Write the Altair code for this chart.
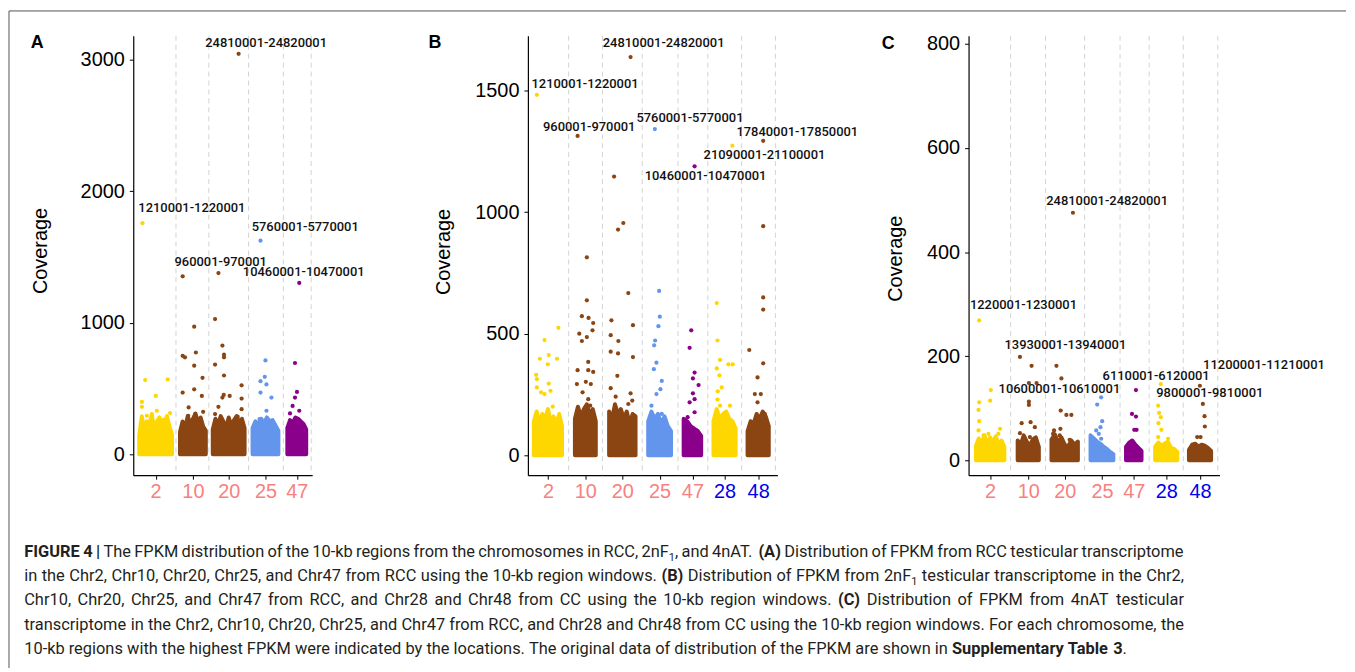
import altair as alt
import pandas as pd

FONT = "Liberation Sans"
ANN_FONT = "Roboto"
CAP_FONT = "Roboto"

COLORS = {"2": "#FFD700", "10": "#8B4513", "20": "#8B4513", "25": "#6495ED",
          "47": "#8B008B", "28": "#DA70D6", "48": "#DA70D6"}
PINK = "#F88080"
BLUE = "#0000EE"

# ---------------- Panel A (RCC) ----------------
A_chroms = ["2", "10", "20", "25", "47"]
A_start = [6, 47, 80, 120, 155]
A_end = [39, 73, 112, 146, 174]
A_bounds = [43, 76, 116, 151, 179]
A_blob = {
    "2": [140, 290, 190, 250, 220, 300, 180, 250, 280, 200, 240, 290, 210, 150],
    "10": [170, 250, 200, 290, 230, 270, 310, 240, 280, 210, 180],
    "20": [190, 270, 230, 290, 250, 200, 280, 220, 260, 290, 240, 270, 200],
    "25": [200, 250, 230, 270, 240, 280, 250, 260, 220, 180],
    "47": [200, 260, 240, 280, 270, 250, 230, 190],
}
A_out_x = {
    "2": [9.3, 12, 34.7, 22.7, 8.7, 8.7, 23.7, 18.7, 37, 30.3, 13.7],
    "10": [49.7, 61.3, 63, 49.7, 52, 61.3, 69.7, 49.7, 61.3, 69, 55.7, 70.3, 62.3, 55.3],
    "20": [106, 85.7, 82.3, 89.7, 91.3, 91.3, 82.3, 91.3, 109, 91, 97, 89.7, 109, 85.7, 109, 82.3, 105],
    "25": [128, 133, 132.3, 128, 134, 128, 139, 134, 127],
    "47": [167, 162.7, 164.7, 162.7, 160.3, 167, 157.7],
}
A_out_y = {
    "2": [1757, 564, 569, 444, 398, 361, 331, 306, 313, 261, 293],
    "10": [1353, 970, 774, 749, 737, 674, 581, 469, 494, 444, 356, 323, 306, 293],
    "20": [3045, 1378, 1028, 827, 757, 737, 682, 599, 524, 451, 444, 431, 424, 361, 343, 306, 286],
    "25": [1624, 714, 589, 556, 531, 469, 431, 331, 268],
    "47": [1303, 694, 474, 431, 368, 331, 311],
}
A_lab_text = ["24810001-24820001", "1210001-1220001", "5760001-5770001", "960001-970001", "10460001-10470001"]
A_lab_x = [133.7, 59, 173, 88, 171.5]
A_lab_y = [3129, 1869, 1726, 1461, 1383]

# ---------------- Panel B (2nF1) ----------------
B_chroms = ["2", "10", "20", "25", "47", "28", "48"]
B_start = [6, 47.3, 81.7, 121, 156.7, 186.7, 221]
B_end = [34.3, 68.3, 108.3, 144, 174.3, 209, 242.3]
B_bounds = [41, 75, 115, 151, 181, 215, 249]
B_blob = {
    "2": [140, 180, 130, 170, 150, 190, 140, 160, 130, 170, 120],
    "10": [150, 200, 160, 190, 210, 170, 190, 140],
    "20": [180, 150, 210, 170, 190, 150, 180, 130, 170, 160],
    "25": [140, 180, 150, 170, 130, 160, 120, 100],
    "47": [150, 140, 120, 110, 100, 80],
    "28": [140, 190, 150, 170, 180, 150, 140, 110],
    "48": [100, 140, 130, 170, 150, 180, 160, 120],
}
B_out_x = {
    "2": [9, 30.7, 16.7, 12, 21, 29.3, 20, 8.3, 9, 21, 13.3, 22.7, 16.7, 25, 9],
    "10": [50, 59.3, 59.3, 54.3, 61, 65.7, 51.7, 65, 59.3, 54.3, 60.7, 50, 60.7, 65.7, 49.3, 58.3, 63.3, 55, 60.7, 62.7],
    "20": [103.3, 86.7, 96, 90.7, 101, 84, 105.7, 83.3, 91, 83.3, 90.7, 105.7, 90, 83.3, 88.3, 103.3, 105, 101],
    "25": [127.7, 132, 132.7, 131.3, 128, 127, 129.3, 126.7, 134.7, 133.3, 129.3, 124.3, 134.7],
    "47": [167.7, 164.3, 162.7, 167.7, 166, 171.7, 166, 162.7, 167.7, 167.7, 160.7],
    "28": [205.7, 190, 190.7, 193.3, 201.7, 206, 190, 192.7, 195, 191, 190.7, 203.3, 193.3],
    "48": [236.7, 236.7, 236.7, 236.7, 222.7, 236.7, 231, 228.3, 234.3, 231, 238.3, 223.3],
}
B_out_y = {
    "2": [1482, 524, 474, 397, 412, 397, 374, 331, 313, 295, 259, 265, 252, 200, 279],
    "10": [1313, 814, 637, 572, 565, 544, 500, 514, 486, 470, 384, 350, 350, 343, 293, 302, 293, 259, 231, 204],
    "20": [1637, 1146, 955, 928, 667, 555, 535, 494, 470, 426, 419, 404, 327, 276, 241, 255, 225, 211],
    "25": [1341, 676, 570, 531, 472, 452, 381, 354, 306, 272, 252, 204, 170],
    "47": [1188, 514, 442, 340, 316, 289, 255, 218, 231, 177, 157],
    "28": [1273, 626, 472, 392, 374, 374, 357, 329, 279, 263, 229, 204, 204],
    "48": [1293, 942, 649, 599, 433, 378, 320, 252, 252, 218, 170, 122],
}
B_lab_text = ["24810001-24820001", "1210001-1220001", "960001-970001", "5760001-5770001",
              "17840001-17850001", "21090001-21100001", "10460001-10470001"]
B_lab_x = [136.5, 57.5, 61.7, 163, 271, 238, 178.7]
B_lab_y = [1693, 1525, 1349, 1385, 1331, 1233, 1148]

# ---------------- Panel C (4nAT) ----------------
C_chroms = ["2", "10", "20", "25", "47", "28", "48"]
C_start = [7.4, 49.4, 83.4, 122.7, 158.4, 187.7, 221.7]
C_end = [36, 70.7, 110, 145.7, 174, 210, 244]
C_bounds = [42.3, 77.4, 116.7, 152.4, 181.7, 216, 250.7]
C_blob = {
    "2": [28, 42, 32, 48, 30, 44, 34, 46, 30, 38, 26],
    "10": [38, 30, 48, 36, 28, 40, 44, 26],
    "20": [40, 50, 34, 44, 30, 26, 38, 30, 36],
    "25": [48, 42, 36, 32, 26, 22, 16, 12],
    "47": [26, 34, 38, 30, 24, 18],
    "28": [26, 34, 28, 32, 36, 24, 22, 16],
    "48": [20, 30, 32, 26, 30, 28, 24, 18],
}
C_out_x = {
    "2": [10.7, 22.4, 21.7, 10.7, 10, 10.7, 10, 31.7, 20, 30, 15],
    "10": [51.7, 63.4, 60.7, 68.4, 60.7, 60.7, 53.4, 62.4, 66.7, 51.7, 61.7],
    "20": [105, 88.4, 93.4, 92.7, 98.4, 103.4, 86, 92.4, 91.7, 101.7, 85],
    "25": [133.4, 129.4, 134.4, 132.7, 128.4, 131, 133.4],
    "47": [168.4, 164.4, 168.4, 166.7, 169, 165],
    "28": [193.4, 190.7, 191.7, 193.4, 191, 194, 190.7, 200.7],
    "48": [232.7, 235.7, 237.4, 237.7, 230, 233.4],
}
C_out_y = {
    "2": [268.6, 135, 114.6, 111.4, 96.8, 75.1, 57.3, 60.5, 50.9, 50.9, 47.7],
    "10": [198.6, 181.4, 148.3, 148.3, 112.7, 106.3, 71.3, 73.2, 63.7, 52.2, 44.6],
    "20": [475.5, 181.4, 157.2, 95.5, 87.2, 87.2, 57.3, 60.5, 47.7, 39.5, 50.9],
    "25": [121, 107, 75.1, 63.7, 57.3, 50.9, 41.4],
    "47": [135, 89.1, 84, 58.6, 58.6, 35],
    "28": [146.4, 105, 91, 82.8, 71.3, 58.6, 44.6, 41.4],
    "48": [143.2, 108.2, 84.7, 64.9, 44.6, 44.6],
}
C_lab_text = ["24810001-24820001", "1220001-1230001", "13930001-13940001", "10600001-10610001",
              "6110001-6120001", "11200001-11210001", "9800001-9810001"]
C_lab_x = [139.4, 55.2, 97.4, 91.4, 188.7, 297.2, 242.7]
C_lab_y = [498.4, 299.2, 220.9, 136.9, 161, 183.3, 128.5]

# ---------------- Caption (*bold*, ~subscript~) ----------------
CAPTION = [
    "*FIGURE 4 |* The FPKM distribution of the 10-kb regions from the chromosomes in RCC, 2nF~1~, and 4nAT. *(A)* Distribution of FPKM from RCC testicular transcriptome",
    "in the Chr2, Chr10, Chr20, Chr25, and Chr47 from RCC using the 10-kb region windows. *(B)* Distribution of FPKM from 2nF~1~ testicular transcriptome in the Chr2,",
    "Chr10, Chr20, Chr25, and Chr47 from RCC, and Chr28 and Chr48 from CC using the 10-kb region windows. *(C)* Distribution of FPKM from 4nAT testicular",
    "transcriptome in the Chr2, Chr10, Chr20, Chr25, and Chr47 from RCC, and Chr28 and Chr48 from CC using the 10-kb region windows. For each chromosome, the",
    "10-kb regions with the highest FPKM were indicated by the locations. The original data of distribution of the FPKM are shown in *Supplementary Table 3*.",
]
CAP_BASELINES = [557.3, 581.7, 606, 630.7, 655]
CAP_LEFT, CAP_RIGHT = 23.3, 1190
CAP_SIZE, CAP_SUB = 16.5, 11

# approximate Roboto advance widths (em) for justified layout of the caption
EM = {' ': .248, 'a': .544, 'b': .561, 'c': .523, 'd': .563, 'e': .530, 'f': .347, 'g': .561,
      'h': .551, 'i': .243, 'j': .239, 'k': .507, 'l': .243, 'm': .876, 'n': .552, 'o': .570,
      'p': .561, 'q': .568, 'r': .338, 's': .516, 't': .327, 'u': .551, 'v': .484, 'w': .751,
      'x': .496, 'y': .473, 'z': .496, 'A': .652, 'B': .623, 'C': .651, 'D': .656, 'E': .568,
      'F': .552, 'G': .681, 'H': .713, 'I': .272, 'K': .628, 'L': .539, 'M': .873, 'N': .713,
      'O': .688, 'P': .631, 'R': .616, 'S': .594, 'T': .597, 'U': .648, 'V': .636, 'W': .887,
      ',': .196, '.': .263, '-': .276, '(': .342, ')': .348, '|': .243}
for d in "0123456789":
    EM[d] = .561

# layout (page pixels)
PLOT_TOP = 33
PLOT_H = 442
A_LEFT, A_W = 133, 180
B_LEFT, B_W = 530, 251
C_LEFT, C_W = 973.3, 252.4


def make_panel(letter, chroms, start, end, bounds, blob, out_x, out_y, lab_text, lab_x, lab_y,
               width, ydom, yticks, title_x, title_y, letter_x, letter_y, border=False):
    blob_rows = []
    for c, s, e in zip(chroms, start, end):
        tops = blob[c]
        n = len(tops)
        for i, t in enumerate(tops):
            blob_rows.append({"chrom": c, "x": s + (e - s) * i / (n - 1), "y": t})
    blob_df = pd.DataFrame(blob_rows)
    pts_df = pd.DataFrame([{"chrom": c, "x": x, "y": y}
                           for c in chroms for x, y in zip(out_x[c], out_y[c])])
    lab_df = pd.DataFrame({"text": lab_text, "x": lab_x, "y": lab_y})
    rule_df = pd.DataFrame({"x": bounds})
    mids = [(s + e) / 2 for s, e in zip(start, end)]

    expr = ""
    for c, b in zip(chroms[:-1], bounds[:-1]):
        expr += f"datum.value < {b} ? '{c}' : "
    expr += f"'{chroms[-1]}'"

    if "28" in chroms:
        thr = bounds[chroms.index("47")]
        lab_color = {"condition": {"test": f"datum.value > {thr}", "value": BLUE}, "value": PINK}
    else:
        lab_color = PINK

    x_enc = alt.X("x:Q", scale=alt.Scale(domain=[0, width], nice=False, zero=False),
                  axis=alt.Axis(values=mids, labelExpr=expr, title=None, grid=False,
                                domainColor="black", domainWidth=1.2, tickColor="black", tickSize=4,
                                labelFontSize=20, labelFont=FONT, labelColor=lab_color,
                                labelPadding=2, labelOverlap=False, labelFlush=False))
    y_enc = alt.Y("y:Q", scale=alt.Scale(domain=ydom, nice=False, zero=False),
                  axis=alt.Axis(values=yticks, format="d", title="Coverage", titleFontSize=20,
                                titleFont=FONT, titleFontWeight="normal", titleColor="black",
                                titleX=title_x, titleY=title_y, titleBaseline="middle", titleAlign="center",
                                labelFontSize=20, labelFont=FONT, labelColor="black", grid=False,
                                domainColor="black", domainWidth=1.2, tickColor="black",
                                tickSize=4, labelPadding=5))
    cscale = alt.Scale(domain=chroms, range=[COLORS[c] for c in chroms])

    rules = alt.Chart(rule_df).mark_rule(color="#D3D3D3", strokeDash=[5, 4], strokeWidth=1).encode(x=x_enc)
    area = alt.Chart(blob_df).mark_area(strokeWidth=4, strokeJoin="round", opacity=1).encode(
        x=x_enc, y=y_enc, y2=alt.datum(0),
        color=alt.Color("chrom:N", scale=cscale, legend=None),
        stroke=alt.Stroke("chrom:N", scale=cscale, legend=None),
        detail="chrom:N")
    pts = alt.Chart(pts_df).mark_circle(size=18, opacity=1).encode(
        x=x_enc, y=y_enc, color=alt.Color("chrom:N", scale=cscale, legend=None))
    labs = alt.Chart(lab_df).mark_text(fontSize=13, font=ANN_FONT, fontWeight=500, color="#111111",
                                       align="center", baseline="middle").encode(
        x=x_enc, y=y_enc, text="text:N")
    let = alt.Chart(pd.DataFrame({"t": [letter]})).mark_text(
        fontSize=18, font=FONT, fontWeight="bold", color="black", align="left",
        baseline="alphabetic").encode(x=alt.value(letter_x), y=alt.value(letter_y), text="t:N")
    layers = [rules, area, pts, labs, let]
    if border:
        one = pd.DataFrame({"a": [0]})
        top = alt.Chart(one).mark_rule(color="#555555", strokeWidth=1).encode(
            x=alt.value(8 - A_LEFT), x2=alt.value(1353 - A_LEFT), y=alt.value(8 - PLOT_TOP))
        left = alt.Chart(one).mark_rule(color="#555555", strokeWidth=1).encode(
            x=alt.value(8 - A_LEFT), y=alt.value(8 - PLOT_TOP), y2=alt.value(669 - PLOT_TOP))
        layers += [top, left]
    return alt.layer(*layers).properties(width=width, height=PLOT_H)


pA = make_panel("A", A_chroms, A_start, A_end, A_bounds, A_blob, A_out_x, A_out_y,
                A_lab_text, A_lab_x, A_lab_y, A_W, [-159, 3182], [0, 1000, 2000, 3000],
                40 - A_LEFT, 249 - PLOT_TOP, 30 - A_LEFT, 45.7 - PLOT_TOP, border=True)
pB = make_panel("B", B_chroms, B_start, B_end, B_bounds, B_blob, B_out_x, B_out_y,
                B_lab_text, B_lab_x, B_lab_y, B_W, [-81.7, 1724.6], [0, 500, 1000, 1500],
                445 - B_LEFT, 250 - PLOT_TOP, 430 - B_LEFT, 45 - PLOT_TOP)
pC = make_panel("C", C_chroms, C_start, C_end, C_bounds, C_blob, C_out_x, C_out_y,
                C_lab_text, C_lab_x, C_lab_y, C_W, [-28.6, 815.4], [0, 200, 400, 600, 800],
                900 - C_LEFT, 256.7 - PLOT_TOP, 886 - C_LEFT, 46.7 - PLOT_TOP)

row = alt.hconcat(
    pA,
    alt.hconcat(pB, pC, spacing=C_LEFT - (B_LEFT + B_W), bounds="flush"),
    spacing=B_LEFT - (A_LEFT + A_W), bounds="flush")


# ---- caption layout: parse markup into words/runs and justify each line ----
def parse(line):
    words, state = [], {"runs": [], "cur": "", "bold": False, "sub": False}

    def flush():
        if state["cur"]:
            style = "s" if state["sub"] else ("b" if state["bold"] else "n")
            state["runs"].append((state["cur"], style))
            state["cur"] = ""

    for ch in line:
        if ch == "*":
            flush()
            state["bold"] = not state["bold"]
        elif ch == "~":
            flush()
            state["sub"] = not state["sub"]
        elif ch == " ":
            flush()
            if state["runs"]:
                words.append(state["runs"])
                state["runs"] = []
        else:
            state["cur"] += ch
    flush()
    if state["runs"]:
        words.append(state["runs"])
    return words


def run_w(text, style):
    size = CAP_SUB if style == "s" else CAP_SIZE
    f = 1.02 if style == "b" else 1.0
    return sum(EM.get(ch, 0.55) for ch in text) * size * f


cap_rows = []
for li, (line, base) in enumerate(zip(CAPTION, CAP_BASELINES)):
    words = parse(line)
    ww = [sum(run_w(t, s) for t, s in w) for w in words]
    nat = EM[" "] * CAP_SIZE
    space = nat
    if li < len(CAPTION) - 1:
        space = max((CAP_RIGHT - CAP_LEFT - sum(ww)) / (len(words) - 1), 0.5 * nat)
    x = CAP_LEFT
    for w, wwid in zip(words, ww):
        xx = x
        for t, s in w:
            cap_rows.append({"text": t, "style": s, "x": xx - A_LEFT,
                             "y": base - (PLOT_TOP + PLOT_H) + (4 if s == "s" else 0)})
            xx += run_w(t, s)
        x += wwid + space
cap_df = pd.DataFrame(cap_rows)
cx = alt.X("x:Q", scale=None, axis=None)
cy = alt.Y("y:Q", scale=None, axis=None)
cap_n = alt.Chart(cap_df).transform_filter("datum.style == 'n'").mark_text(
    align="left", baseline="alphabetic", font=CAP_FONT, fontSize=CAP_SIZE, color="#231F20"
).encode(x=cx, y=cy, text="text:N")
cap_b = alt.Chart(cap_df).transform_filter("datum.style == 'b'").mark_text(
    align="left", baseline="alphabetic", font=CAP_FONT, fontSize=CAP_SIZE, fontWeight="bold",
    color="#231F20").encode(x=cx, y=cy, text="text:N")
cap_s = alt.Chart(cap_df).transform_filter("datum.style == 's'").mark_text(
    align="left", baseline="alphabetic", font=CAP_FONT, fontSize=CAP_SUB, color="#231F20"
).encode(x=cx, y=cy, text="text:N")
caption = alt.layer(cap_n, cap_b, cap_s).properties(width=1200, height=185)

# the nested (flush) panel row contributes no height to the outer layout,
# so the caption row is pushed down by the plot height
chart = alt.vconcat(row, caption, spacing=PLOT_H, bounds="flush").properties(
    padding=0, background="white"
).configure_view(stroke=None)

chart.save("out.html", embed_options={"renderer": "svg", "actions": False})
